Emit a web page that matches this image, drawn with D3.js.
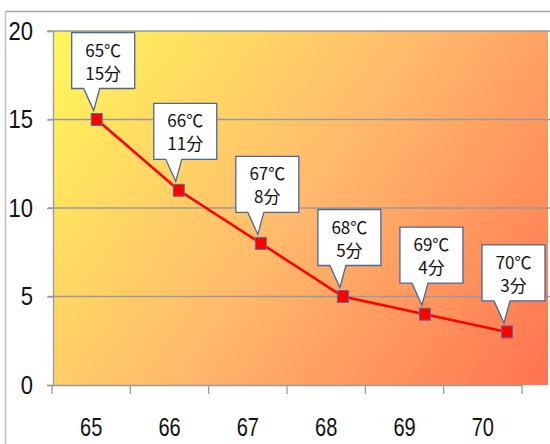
<!DOCTYPE html>
<html><head><meta charset="utf-8">
<script src="https://cdn.jsdelivr.net/npm/d3@7"></script>
<style>html,body{margin:0;padding:0;background:#fff;}svg{display:block;}</style>
</head><body>
<svg id="c" width="550" height="444"></svg>
<script>
const categories = [65, 66, 67, 68, 69, 70];
const minutes = [15, 11, 8, 5, 4, 3];
const tempLabels = ["65℃", "66℃", "67℃", "68℃", "69℃", "70℃"];
const minuteLabels = ["15分", "11分", "8分", "5分", "4分", "3分"];
const yTicks = [0, 5, 10, 15, 20];

const svg = d3.select("#c");
const L = 54, R = 548, T = 31, B = 385;
const axisFont = "'Liberation Sans',Arial,sans-serif";

// gradient
const defs = svg.append("defs");
const g = defs.append("linearGradient").attr("id", "bg")
  .attr("gradientUnits", "userSpaceOnUse")
  .attr("x1", L).attr("y1", T).attr("x2", R).attr("y2", B);
g.append("stop").attr("offset", 0).attr("stop-color", "#FFF85A");
g.append("stop").attr("offset", 0.5).attr("stop-color", "#FFB96C");
g.append("stop").attr("offset", 1).attr("stop-color", "#FF7350");

// outer frame
svg.append("line").attr("x1", 5.5).attr("x2", 550).attr("y1", 11.5).attr("y2", 11.5)
  .attr("stroke", "#a6a6a6").attr("stroke-width", 1.5);
svg.append("line").attr("x1", 5.5).attr("x2", 5.5).attr("y1", 11.5).attr("y2", 444)
  .attr("stroke", "#bfbfbf").attr("stroke-width", 1.5);

const y = d3.scaleLinear().domain([0, 20]).range([B, T]);
const xBand = d3.scaleBand().domain(categories).range([L - 2, R - 26]);
const xPt = d3.scaleLinear().domain([65, 70]).range([96.7, 507]);

svg.append("rect").attr("x", L).attr("y", T).attr("width", R - L).attr("height", B - T)
  .attr("fill", "url(#bg)");

// grid
svg.append("g").selectAll("line").data(yTicks.filter(d => d > 0)).join("line")
  .attr("x1", L - 6).attr("x2", 550)
  .attr("y1", d => y(d)).attr("y2", d => y(d))
  .attr("stroke", "#9a9a9a").attr("stroke-width", 1.3);

// y axis
const yAxis = svg.append("g").attr("transform", `translate(${L - 1},0)`)
  .call(d3.axisLeft(y).tickValues(yTicks).tickSize(6).tickPadding(14));
yAxis.select(".domain").attr("stroke", "#9a9a9a").attr("stroke-width", 1.3);
yAxis.selectAll(".tick line").attr("stroke", "#9a9a9a").attr("stroke-width", 1.3);
yAxis.selectAll("text").attr("font-family", axisFont).attr("font-size", 25).attr("fill", "#111")
  .attr("transform", "translate(-20,0) scale(0.88,1) translate(20,0)");

// x axis
const xAxis = svg.append("g").attr("transform", `translate(0,${B})`)
  .call(d3.axisBottom(xBand).tickSize(0).tickPadding(33));
xAxis.select(".domain").attr("stroke", "#9a9a9a").attr("stroke-width", 1.3);
xAxis.selectAll("text").attr("font-family", axisFont).attr("font-size", 25).attr("fill", "#111")
  .attr("transform", "scale(0.8,1)");
const bounds = categories.map(c => xBand(c)).concat([xBand(70) + xBand.bandwidth()]);
svg.append("g").selectAll("line").data(bounds).join("line")
  .attr("x1", d => d).attr("x2", d => d).attr("y1", B).attr("y2", B + 9)
  .attr("stroke", "#9a9a9a").attr("stroke-width", 1.3);

// line
const pts = categories.map((c, i) => ({c, v: minutes[i], i}));
svg.append("path").datum(pts)
  .attr("d", d3.line().x(d => xPt(d.c)).y(d => y(d.v)))
  .attr("fill", "none").attr("stroke", "#ff0000").attr("stroke-width", 2.6);

svg.append("g").selectAll("rect").data(pts).join("rect")
  .attr("x", d => xPt(d.c) - 5.5).attr("y", d => y(d.v) - 6)
  .attr("width", 11).attr("height", 12)
  .attr("fill", "#ff0000").attr("stroke", "#5470a0").attr("stroke-width", 1);

// callouts
const bw = 63, bh = 56;
const cg = svg.append("g").selectAll("g").data(pts).join("g");
cg.append("path").attr("d", d => {
  const px = xPt(d.c), py = y(d.v);
  const bx = px - 25, by = py - 31 - bh;
  const tipY = py - 9;
  return `M${bx},${by} H${bx + bw} V${by + bh} H${px + 3} L${px - 3},${tipY} L${px - 13},${by + bh} H${bx} Z`;
}).attr("fill", "#fff").attr("stroke", "#4a6896").attr("stroke-width", 1.3);
const labelFont = "'Noto Sans CJK JP','Noto Sans',sans-serif";
cg.append("text").attr("x", d => xPt(d.c) - 25 + bw / 2).attr("y", d => y(d.v) - 31 - bh + 24)
  .attr("text-anchor", "middle").attr("font-family", labelFont).attr("font-size", 17).attr("fill", "#111")
  .text(d => tempLabels[d.i]);
cg.append("text").attr("x", d => xPt(d.c) - 25 + bw / 2).attr("y", d => y(d.v) - 31 - bh + 47)
  .attr("text-anchor", "middle").attr("font-family", labelFont).attr("font-size", 17).attr("fill", "#111")
  .text(d => minuteLabels[d.i]);
</script>
</body></html>
